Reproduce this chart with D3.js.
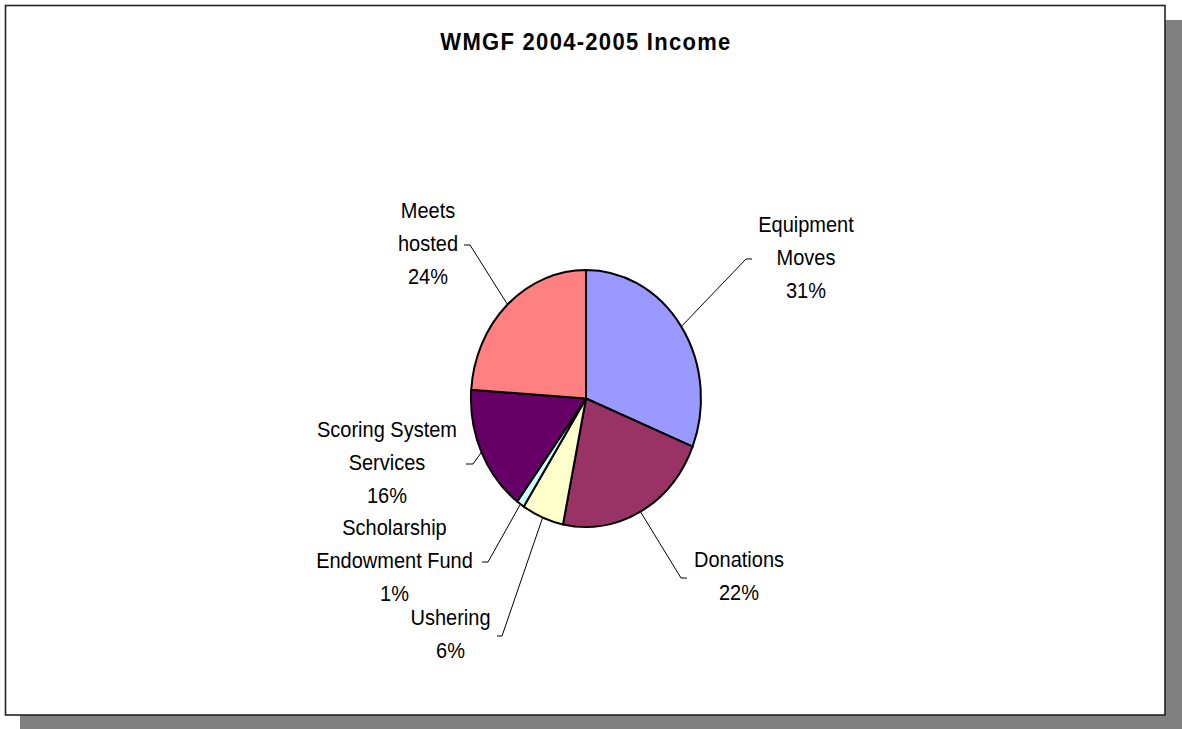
<!DOCTYPE html>
<html>
<head>
<meta charset="utf-8">
<script src="https://cdn.jsdelivr.net/npm/d3@7"></script>
<style>
  html, body { margin: 0; padding: 0; background: #ffffff; }
  svg { display: block; }
  text { font-family: "Liberation Sans", Arial, sans-serif; fill: #000; }
</style>
</head>
<body>
<svg id="chart" width="1182" height="729"></svg>
<script>
// ---- data ----
const title = "WMGF 2004-2005 Income";
const categories = ["Equipment Moves", "Donations", "Ushering", "Scholarship Endowment Fund", "Scoring System Services", "Meets hosted"];
const labelLines = [["Equipment", "Moves"], ["Donations"], ["Ushering"], ["Scholarship", "Endowment Fund"], ["Scoring System", "Services"], ["Meets", "hosted"]];
const values = [31.1, 22.1, 5.9, 1.1, 15.9, 23.9];
const colors = ["#9999FF", "#993366", "#FFFFCC", "#CCFFFF", "#660066", "#FF8080"];

// ---- layout (label placement, as in the reference) ----
const labelPos = [
  { cx: 806, by: 232, ex: 752, elbowX: 746, ly: 259 },
  { cx: 739, by: 567, ex: 687, elbowX: 681, ly: 578 },
  { cx: 450.5, by: 625, ex: 497, elbowX: 502, ly: 636 },
  { cx: 394.5, by: 535, ex: 482, elbowX: 488, ly: 562 },
  { cx: 387, by: 437, ex: 466, elbowX: 473, ly: 464 },
  { cx: 428, by: 218, ex: 464, elbowX: 470, ly: 245 }
];
const lineStep = 33.2;
const vStretch = 1.117;

const W = 1182, H = 729;
const svg = d3.select("#chart");

// shadow + frame
svg.append("rect").attr("x", 20).attr("y", 20).attr("width", W - 20).attr("height", H - 20).attr("fill", "#808080");
svg.append("rect").attr("x", 5.5).attr("y", 5.5).attr("width", 1159.5).attr("height", 709.5)
  .attr("fill", "#ffffff").attr("stroke", "#222").attr("stroke-width", 1.6);

// title
svg.append("text")
  .attr("transform", `translate(586,49.5) scale(1,${vStretch})`)
  .attr("text-anchor", "middle")
  .style("font-weight", "bold").style("font-size", "22px").style("letter-spacing", "1.3px")
  .text(title);

// pie (elliptical)
const cx = 586, cy = 398.5, rx = 115, ry = 128.5;
const pie = d3.pie().sort(null).value(d => d)(values);
const arc = d3.arc().innerRadius(0).outerRadius(1);

const pieG = svg.append("g").attr("transform", `translate(${cx},${cy}) scale(${rx},${ry})`);
pieG.selectAll("path").data(pie).join("path")
  .attr("d", arc)
  .attr("fill", (d, i) => colors[i])
  .attr("stroke", "#000")
  .attr("stroke-width", 2)
  .attr("vector-effect", "non-scaling-stroke")
  .attr("stroke-linejoin", "round");

// leader lines
const pct = d3.format(".0f");
pie.forEach((d, i) => {
  const a = (d.startAngle + d.endAngle) / 2;
  const px = cx + rx * Math.sin(a), py = cy - ry * Math.cos(a);
  const L = labelPos[i];
  svg.append("path")
    .attr("d", d3.line()([[px, py], [L.elbowX, L.ly], [L.ex, L.ly]]))
    .attr("fill", "none").attr("stroke", "#000").attr("stroke-width", 1);
});

// labels
pie.forEach((d, i) => {
  const L = labelPos[i];
  const lines = labelLines[i].concat([pct(values[i]) + "%"]);
  lines.forEach((t, k) => {
    svg.append("text")
      .attr("transform", `translate(${L.cx},${L.by + k * lineStep}) scale(1,${vStretch})`)
      .attr("text-anchor", "middle")
      .style("font-size", "20px")
      .text(t);
  });
});
</script>
</body>
</html>
